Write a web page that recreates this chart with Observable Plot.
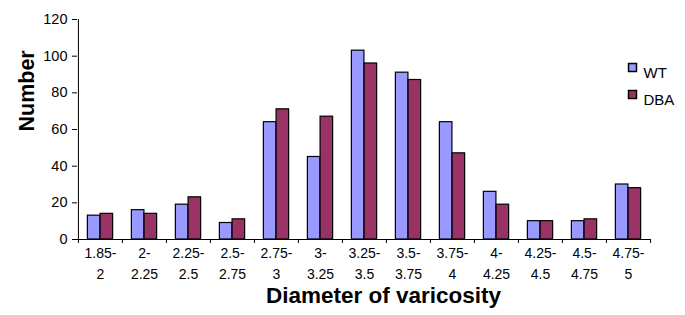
<!DOCTYPE html>
<html>
<head>
<meta charset="utf-8">
<script src="https://cdn.jsdelivr.net/npm/d3@7"></script>
<script src="https://cdn.jsdelivr.net/npm/@observablehq/plot@0.6"></script>
<style>
  html, body { margin: 0; padding: 0; background: #fff; }
  #chart svg { display: block; }
</style>
</head>
<body>
<div id="chart"></div>
<script>
const categories = ["1.85-2","2-2.25","2.25-2.5","2.5-2.75","2.75-3","3-3.25","3.25-3.5","3.5-3.75","3.75-4","4-4.25","4.25-4.5","4.5-4.75","4.75-5"];
const tickLabels = ["1.85-\n2","2-\n2.25","2.25-\n2.5","2.5-\n2.75","2.75-\n3","3-\n3.25","3.25-\n3.5","3.5-\n3.75","3.75-\n4","4-\n4.25","4.25-\n4.5","4.5-\n4.75","4.75-\n5"];
const wt  = [13, 16, 19, 9, 64, 45, 103, 91, 64, 26, 10, 10, 30];
const dba = [14, 14, 23, 11, 71, 67, 96, 87, 47, 19, 10, 11, 28];
const series = ["WT", "DBA"];
const colors = ["#9999FF", "#993366"];
const yTicks = [0, 20, 40, 60, 80, 100, 120];

const W = 685, H = 315;
const mL = 77, mR = 34, mT = 19, mB = 76;
const bw = (W - mL - mR) / categories.length;
const barW = 12.7;
const frameH = H - mT - mB;

const rows = categories.map((c, i) => ({cat: c, WT: wt[i], DBA: dba[i]}));
const labelOf = new Map(categories.map((c, i) => [c, tickLabels[i]]));

const marks = [
  Plot.barY(rows, {x: "cat", y: "WT", fill: colors[0], stroke: "#000", strokeWidth: 1.2,
    insetLeft: bw / 2 - barW, insetRight: bw / 2}),
  Plot.barY(rows, {x: "cat", y: "DBA", fill: colors[1], stroke: "#000", strokeWidth: 1.2,
    insetLeft: bw / 2, insetRight: bw / 2 - barW}),
  Plot.ruleY([0], {stroke: "#000"}),
  // y axis line
  Plot.ruleX([categories[0]], {dx: -bw / 2, stroke: "#000", insetBottom: -4}),
  // boundary ticks
  Plot.ruleX(categories.slice(1), {dx: -bw / 2, stroke: "#000", insetTop: frameH, insetBottom: -4}),
  Plot.ruleX([categories[categories.length - 1]], {dx: bw / 2, stroke: "#000", insetTop: frameH, insetBottom: -4}),
  Plot.axisY({ticks: yTicks, tickSize: 5, tickPadding: 5, fontSize: 14.5, label: null, stroke: "#000"}),
  Plot.axisX({tickSize: 0, tickPadding: 4, fontSize: 14, lineHeight: 1.48, label: null,
    tickFormat: d => labelOf.get(d)}),
  Plot.text(["Number"], {frameAnchor: "left", rotate: -90, dx: -50, dy: 2, fontWeight: "bold", fontSize: 21.5, fill: "#000"}),
  Plot.text(["Diameter of varicosity"], {frameAnchor: "bottom", dx: 19, dy: 63, fontWeight: "bold", fontSize: 22.5, letterSpacing: "0.3px", fill: "#000"})
];

series.forEach((s, i) => {
  marks.push(Plot.dot([s], {frameAnchor: "top-right", symbol: "square", r: 4.5, fill: colors[i], stroke: "#000",
    dx: -19, dy: 48 + 27 * i}));
  marks.push(Plot.text([s], {frameAnchor: "top-right", text: d => d, textAnchor: "start", fontSize: 15, fill: "#000",
    dx: -8, dy: 48 + 27 * i}));
});

const chart = Plot.plot({
  width: W, height: H,
  marginLeft: mL, marginRight: mR, marginTop: mT, marginBottom: mB,
  style: {fontFamily: "'Liberation Sans', Arial, sans-serif", color: "#000", background: "#fff"},
  x: {type: "band", domain: categories, padding: 0, axis: null},
  y: {domain: [0, 120], axis: null},
  marks
});
document.getElementById("chart").appendChild(chart);
</script>
</body>
</html>
